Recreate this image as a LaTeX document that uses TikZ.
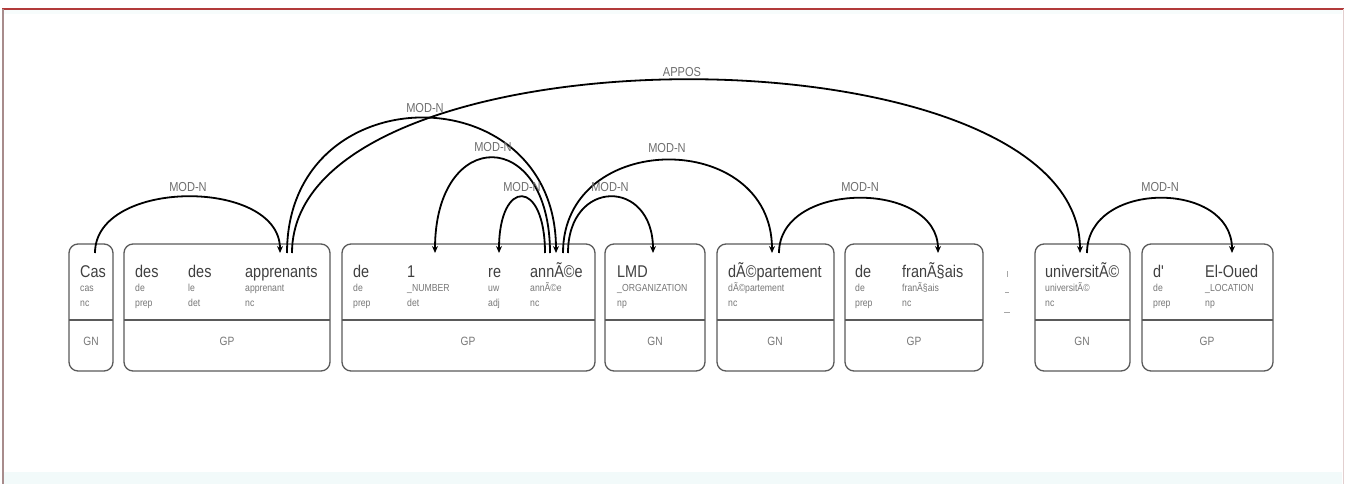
\documentclass[tikz,border=0pt]{standalone}
\usepackage{fontspec}
\setmainfont{Liberation Sans}[FakeStretch=0.85]
\usetikzlibrary{arrows.meta}
\definecolor{boxgray}{HTML}{5A5A5A}
\definecolor{wordgray}{HTML}{404040}
\definecolor{smallgray}{HTML}{777777}
\definecolor{labgray}{HTML}{6E6E6E}
\definecolor{framered}{HTML}{B23A3A}
\definecolor{frameleft}{HTML}{A88C8C}
\definecolor{frameright}{HTML}{E2CFCF}
\definecolor{bandcyan}{HTML}{F2FAFA}
\newcommand{\wordf}{\fontsize{17}{17}\selectfont}
\newcommand{\smallf}{\fontsize{10.2}{10.2}\selectfont}
\newcommand{\phrf}{\fontsize{12}{12}\selectfont}
\newcommand{\labf}{\fontsize{13}{13}\selectfont}
\tikzset{
  box/.style={draw=boxgray, line width=1.3pt, rounded corners=9pt, minimum height=127pt, anchor=north west, inner sep=0pt, outer sep=0pt},
  divline/.style={draw=boxgray, line width=1.3pt},
  word/.style={anchor=base west, inner sep=0pt, text=wordgray, font=\wordf},
  small/.style={anchor=base west, inner sep=0pt, text=smallgray, font=\smallf},
  phr/.style={anchor=base, inner sep=0pt, text=smallgray, font=\phrf},
  lab/.style={inner sep=0pt, text=labgray, font=\labf},
  dep/.style={draw=black, line width=1.8pt, -{Stealth[length=7pt,width=6pt]}},
  faint/.style={draw=black!35, line width=0.9pt},
}
\begin{document}
\begin{tikzpicture}[x=1pt,y=-1pt]
\useasboundingbox (0,0) rectangle (1346,484);
% frame
\fill[white] (0,0) rectangle (1346,484);
\fill[bandcyan] (4,472) rectangle (1342,484);
\fill[bandcyan!60] (4,10) rectangle (1342,14);
\draw[framered, line width=2pt] (2,9) -- (1344,9);
\draw[frameleft, line width=1.6pt] (3,9) -- (3,484);
\draw[frameright, line width=1pt] (1343,9) -- (1343,484);

\coordinate (div) at (0,320);
% boxes
\node[box, minimum width=44pt]  (bx1) at (69,244) {};
\node[box, minimum width=206pt] (bx2) at (124,244) {};
\node[box, minimum width=253pt] (bx3) at (342,244) {};
\node[box, minimum width=100pt] (bx4) at (605,244) {};
\node[box, minimum width=117pt] (bx5) at (717,244) {};
\node[box, minimum width=138pt] (bx6) at (845,244) {};
\node[box, minimum width=95pt]  (bx7) at (1035,244) {};
\node[box, minimum width=131pt] (bx8) at (1142,244) {};
\foreach \b in {bx1,bx2,bx3,bx4,bx5,bx6,bx7,bx8}
  \draw[divline] (\b.west |- div) -- (\b.east |- div);

% phrase labels
\node[phr] (p1) at (91,345) {GN};
\node[phr] (p2) at (227,345) {GP};
\node[phr] (p3) at (468,345) {GP};
\node[phr] (p4) at (655,345) {GN};
\node[phr] (p5) at (775,345) {GN};
\node[phr] (p6) at (914,345) {GP};
\node[phr] (p7) at (1082,345) {GN};
\node[phr] (p8) at (1207,345) {GP};

% words, lemmas, POS
\node[word] (w1) at (80,277) {Cas};
\node[small] (l1) at (80,291) {cas};
\node[small] (t1) at (80,306) {nc};

\node[word] (w2) at (135,277) {des};
\node[small] (l2) at (135,291) {de};
\node[small] (t2) at (135,306) {prep};
\node[word] (w3) at (188,277) {des};
\node[small] (l3) at (188,291) {le};
\node[small] (t3) at (188,306) {det};
\node[word] (w4) at (245,277) {apprenants};
\node[small] (l4) at (245,291) {apprenant};
\node[small] (t4) at (245,306) {nc};

\node[word] (w5) at (353,277) {de};
\node[small] (l5) at (353,291) {de};
\node[small] (t5) at (353,306) {prep};
\node[word] (w6) at (407,277) {1};
\node[small] (l6) at (407,291) {\_NUMBER};
\node[small] (t6) at (407,306) {det};
\node[word] (w7) at (488,277) {re};
\node[small] (l7) at (488,291) {uw};
\node[small] (t7) at (488,306) {adj};
\node[word] (w8) at (530,277) {annÃ©e};
\node[small] (l8) at (530,291) {annÃ©e};
\node[small] (t8) at (530,306) {nc};

\node[word] (w9) at (617,277) {LMD};
\node[small] (l9) at (617,291) {\_ORGANIZATION};
\node[small] (t9) at (617,306) {np};

\node[word] (w10) at (728,277) {dÃ©partement};
\node[small] (l10) at (728,291) {dÃ©partement};
\node[small] (t10) at (728,306) {nc};

\node[word] (w11) at (855,277) {de};
\node[small] (l11) at (855,291) {de};
\node[small] (t11) at (855,306) {prep};
\node[word] (w12) at (902,277) {franÃ§ais};
\node[small] (l12) at (902,291) {franÃ§ais};
\node[small] (t12) at (902,306) {nc};

\node[word] (w13) at (1045,277) {universitÃ©};
\node[small] (l13) at (1045,291) {universitÃ©};
\node[small] (t13) at (1045,306) {nc};

\node[word] (w14) at (1153,277) {d\textquotesingle};
\node[small] (l14) at (1153,291) {de};
\node[small] (t14) at (1153,306) {prep};
\node[word] (w15) at (1205,277) {El-Oued};
\node[small] (l15) at (1205,291) {\_LOCATION};
\node[small] (t15) at (1205,306) {np};

% faint punctuation marks between boxes
\coordinate (pm1) at (1007,271);
\coordinate (pm2) at (1007,277);
\draw[faint] (pm1) -- (pm2);
\coordinate (pm3) at (1005,292);
\coordinate (pm4) at (1009,292);
\draw[faint] (pm3) -- (pm4);
\coordinate (pm5) at (1004,312);
\coordinate (pm6) at (1010,312);
\draw[faint] (pm5) -- (pm6);

% arc endpoints
\coordinate (casO)  at (95,253);
\coordinate (appI)  at (280,253);
\coordinate (appO1) at (287,253);
\coordinate (appO2) at (292,253);
\coordinate (annI)  at (556,253);
\coordinate (annO1) at (550,253);
\coordinate (annO2) at (545,253);
\coordinate (annO3) at (563,253);
\coordinate (annO4) at (568,253);
\coordinate (oneI)  at (435,253);
\coordinate (reI)   at (499,253);
\coordinate (lmdI)  at (653,253);
\coordinate (depI)  at (772,253);
\coordinate (depO)  at (779,253);
\coordinate (fraI)  at (938,253);
\coordinate (uniI)  at (1080,253);
\coordinate (uniO)  at (1087,253);
\coordinate (eloI)  at (1232,253);

% arcs
\draw[dep] (casO) .. controls +(0,-75) and +(0,-75) .. (appI);
\draw[dep] (appO1) .. controls +(0,-180) and +(0,-180) .. (annI);
\draw[dep] (appO2) .. controls +(0,-231) and +(0,-231) .. (uniI);
\draw[dep] (annO1) .. controls +(0,-127) and +(0,-127) .. (oneI);
\draw[dep] (annO2) .. controls +(0,-75) and +(0,-75) .. (reI);
\draw[dep] (annO4) .. controls +(0,-75) and +(0,-75) .. (lmdI);
\draw[dep] (annO3) .. controls +(0,-124) and +(0,-124) .. (depI);
\draw[dep] (depO) .. controls +(0,-73) and +(0,-73) .. (fraI);
\draw[dep] (uniO) .. controls +(0,-73) and +(0,-73) .. (eloI);

% arc labels
\node[lab] (a1) at (188,187) {MOD-N};
\node[lab] (a2) at (425,108) {MOD-N};
\node[lab] (a3) at (682,72) {APPOS};
\node[lab] (a4) at (493,147) {MOD-N};
\node[lab] (a5) at (522,187) {MOD-N};
\node[lab] (a6) at (610,187) {MOD-N};
\node[lab] (a7) at (667,148) {MOD-N};
\node[lab] (a8) at (860,187) {MOD-N};
\node[lab] (a9) at (1160,187) {MOD-N};
\end{tikzpicture}
\end{document}
